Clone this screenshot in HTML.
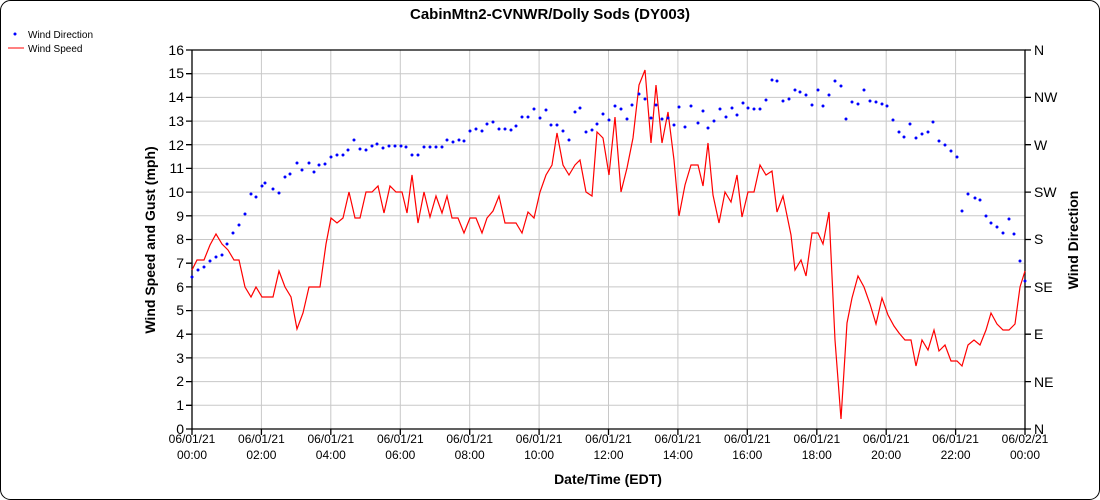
<!DOCTYPE html>
<html><head><meta charset="utf-8"><style>
html,body{margin:0;padding:0;background:#fff;}
svg{display:block;font-family:"Liberation Sans",Arial,sans-serif;}
</style></head><body>
<svg width="1100" height="500" viewBox="0 0 1100 500" xmlns="http://www.w3.org/2000/svg">
<rect x="0.5" y="0.5" width="1099" height="499" rx="10" fill="#fff" stroke="#000"/>
<text x="550" y="19" font-size="15" font-weight="bold" text-anchor="middle">CabinMtn2-CVNWR/Dolly Sods (DY003)</text>
<path d="M15 34h0" stroke="#00f" stroke-width="3" stroke-linecap="round"/>
<text x="28" y="38" font-size="10">Wind Direction</text>
<line x1="8" y1="48" x2="24" y2="48" stroke="#f00"/>
<text x="28" y="52" font-size="10">Wind Speed</text>
<g stroke="#c8c8c8" stroke-width="1">
<path d="M261.4 50V429M330.8 50V429M400.3 50V429M469.7 50V429M539.1 50V429M608.5 50V429M677.9 50V429M747.3 50V429M816.8 50V429M886.2 50V429M955.6 50V429"/>
<path d="M192 405.3H1025M192 381.6H1025M192 357.9H1025M192 334.2H1025M192 310.6H1025M192 286.9H1025M192 263.2H1025M192 239.5H1025M192 215.8H1025M192 192.1H1025M192 168.4H1025M192 144.7H1025M192 121.1H1025M192 97.4H1025M192 73.7H1025"/>
</g>
<g stroke="#000" stroke-width="1.3" fill="none">
<path d="M192 50V429H1025V50H192"/>
<path d="M186 429h6M186 405.3h6M186 381.6h6M186 357.9h6M186 334.2h6M186 310.6h6M186 286.9h6M186 263.2h6M186 239.5h6M186 215.8h6M186 192.1h6M186 168.4h6M186 144.7h6M186 121.1h6M186 97.4h6M186 73.7h6M186 50h6"/>
<path d="M1025 429h6M1025 381.6h6M1025 334.2h6M1025 286.9h6M1025 239.5h6M1025 192.1h6M1025 144.7h6M1025 97.4h6M1025 50h6"/>
<path d="M192 429v6M261.4 429v6M330.8 429v6M400.3 429v6M469.7 429v6M539.1 429v6M608.5 429v6M677.9 429v6M747.3 429v6M816.8 429v6M886.2 429v6M955.6 429v6M1025 429v6"/>
</g>
<g font-size="14" text-anchor="end">
<text x="184" y="434">0</text><text x="184" y="410">1</text><text x="184" y="386">2</text><text x="184" y="363">3</text><text x="184" y="339">4</text><text x="184" y="315">5</text><text x="184" y="292">6</text><text x="184" y="268">7</text><text x="184" y="244">8</text><text x="184" y="221">9</text><text x="184" y="197">10</text><text x="184" y="173">11</text><text x="184" y="150">12</text><text x="184" y="126">13</text><text x="184" y="102">14</text><text x="184" y="78">15</text><text x="184" y="55">16</text>
</g>
<g font-size="14">
<text x="1034" y="434">N</text><text x="1034" y="387">NE</text><text x="1034" y="339">E</text><text x="1034" y="292">SE</text><text x="1034" y="244">S</text><text x="1034" y="197">SW</text><text x="1034" y="150">W</text><text x="1034" y="102">NW</text><text x="1034" y="55">N</text>
</g>
<g font-size="12" text-anchor="middle">
<text x="192" y="443">06/01/21</text><text x="192" y="459">00:00</text>
<text x="261.4" y="443">06/01/21</text><text x="261.4" y="459">02:00</text>
<text x="330.8" y="443">06/01/21</text><text x="330.8" y="459">04:00</text>
<text x="400.3" y="443">06/01/21</text><text x="400.3" y="459">06:00</text>
<text x="469.7" y="443">06/01/21</text><text x="469.7" y="459">08:00</text>
<text x="539.1" y="443">06/01/21</text><text x="539.1" y="459">10:00</text>
<text x="608.5" y="443">06/01/21</text><text x="608.5" y="459">12:00</text>
<text x="677.9" y="443">06/01/21</text><text x="677.9" y="459">14:00</text>
<text x="747.3" y="443">06/01/21</text><text x="747.3" y="459">16:00</text>
<text x="816.8" y="443">06/01/21</text><text x="816.8" y="459">18:00</text>
<text x="886.2" y="443">06/01/21</text><text x="886.2" y="459">20:00</text>
<text x="955.6" y="443">06/01/21</text><text x="955.6" y="459">22:00</text>
<text x="1025" y="443">06/02/21</text><text x="1025" y="459">00:00</text>
</g>
<text x="608" y="484" font-size="14" font-weight="bold" text-anchor="middle">Date/Time (EDT)</text>
<text transform="translate(155,240) rotate(-90)" font-size="14" font-weight="bold" text-anchor="middle">Wind Speed and Gust (mph)</text>
<text transform="translate(1078,240) rotate(-90)" font-size="14" font-weight="bold" text-anchor="middle">Wind Direction</text>
<polyline fill="none" stroke="#f00" stroke-width="1.2" points="192,270 197,260 204,260 210,245 216,234 222,244 228,250 234,260 239,260 245,287 251,297 256,287 262,297 273,297 279,271 285,287 291,297 297,329 303,313 309,287 320,287 326,244 331,218 337,223 343,218 349,192 355,218 360,218 366,192 372,192 378,186 384,213 390,186 396,192 402,192 407,213 412,175 418,223 424,192 430,217 436,196 442,213 447,196 452,218 458,218 464,233 470,218 476,218 482,233 487,218 493,211 499,196 505,223 516,223 522,233 528,212 534,218 540,192 546,175 552,165 557,133 563,165 569,175 575,165 580,160 586,192 592,196 597,132 603,138 609,175 615,117 621,192 627,168 633,138 639,85 645,70 651,143 656,85 662,143 668,112 674,160 679,216 685,185 691,165 698,165 703,186 708,143 713,195 719,223 725,192 731,202 737,175 742,217 748,192 754,192 760,165 766,175 772,171 777,212 783,196 791,235 795,270 801,260 806,276 812,233 818,233 823,244 829,212 835,340 841,419 847,323 852,298 858,276 864,287 870,304 876,324 882,298 888,315 894,326 899,333 905,340 911,340 916,366 922,340 928,350 934,330 939,351 945,345 951,361 957,361 962,366 968,345 974,340 980,345 986,330 991,313 997,324 1003,330 1009,330 1015,324 1020,287 1025,271"/>
<path fill="none" stroke="#00f" stroke-width="3" stroke-linecap="round" d="M192 277h0M198 270h0M204 267h0M210 261h0M216 257h0M222 255h0M227 244h0M233 233h0M239 225h0M245 214h0M251 194h0M256 197h0M262 186h0M265 183h0M273 189h0M279 193h0M285 177h0M290 174h0M297 163h0M302 170h0M309 163h0M314 172h0M319 165h0M325 164h0M331 157h0M337 155h0M343 155h0M348 150h0M354 140h0M360 149h0M366 150h0M372 146h0M377 144h0M383 148h0M389 146h0M395 146h0M401 146h0M406 147h0M412 155h0M418 155h0M424 147h0M430 147h0M436 147h0M442 147h0M447 140h0M453 142h0M459 140h0M464 141h0M470 131h0M476 129h0M482 131h0M487 124h0M493 122h0M499 129h0M505 129h0M511 130h0M516 126h0M522 117h0M528 117h0M534 109h0M540 118h0M546 110h0M551 125h0M557 125h0M563 131h0M569 140h0M575 112h0M580 108h0M586 132h0M592 130h0M597 124h0M603 114h0M609 120h0M615 106h0M621 109h0M627 119h0M632 105h0M639 94h0M645 99h0M651 118h0M656 105h0M662 119h0M668 118h0M674 125h0M679 107h0M685 127h0M691 106h0M698 123h0M703 111h0M708 128h0M714 121h0M720 109h0M726 117h0M732 108h0M737 115h0M743 103h0M748 108h0M754 109h0M760 109h0M766 100h0M772 80h0M777 81h0M783 101h0M789 99h0M795 90h0M800 92h0M806 95h0M812 105h0M818 90h0M823 106h0M829 95h0M835 81h0M841 86h0M846 119h0M852 102h0M858 104h0M864 90h0M870 101h0M876 102h0M882 104h0M887 106h0M893 120h0M899 132h0M904 137h0M910 124h0M916 138h0M922 134h0M928 132h0M933 122h0M939 141h0M945 145h0M951 151h0M957 157h0M962 211h0M968 194h0M975 198h0M980 200h0M986 216h0M991 223h0M997 227h0M1003 233h0M1009 219h0M1014 234h0M1020 261h0M1025 281h0"/>
</svg>
</body></html>
